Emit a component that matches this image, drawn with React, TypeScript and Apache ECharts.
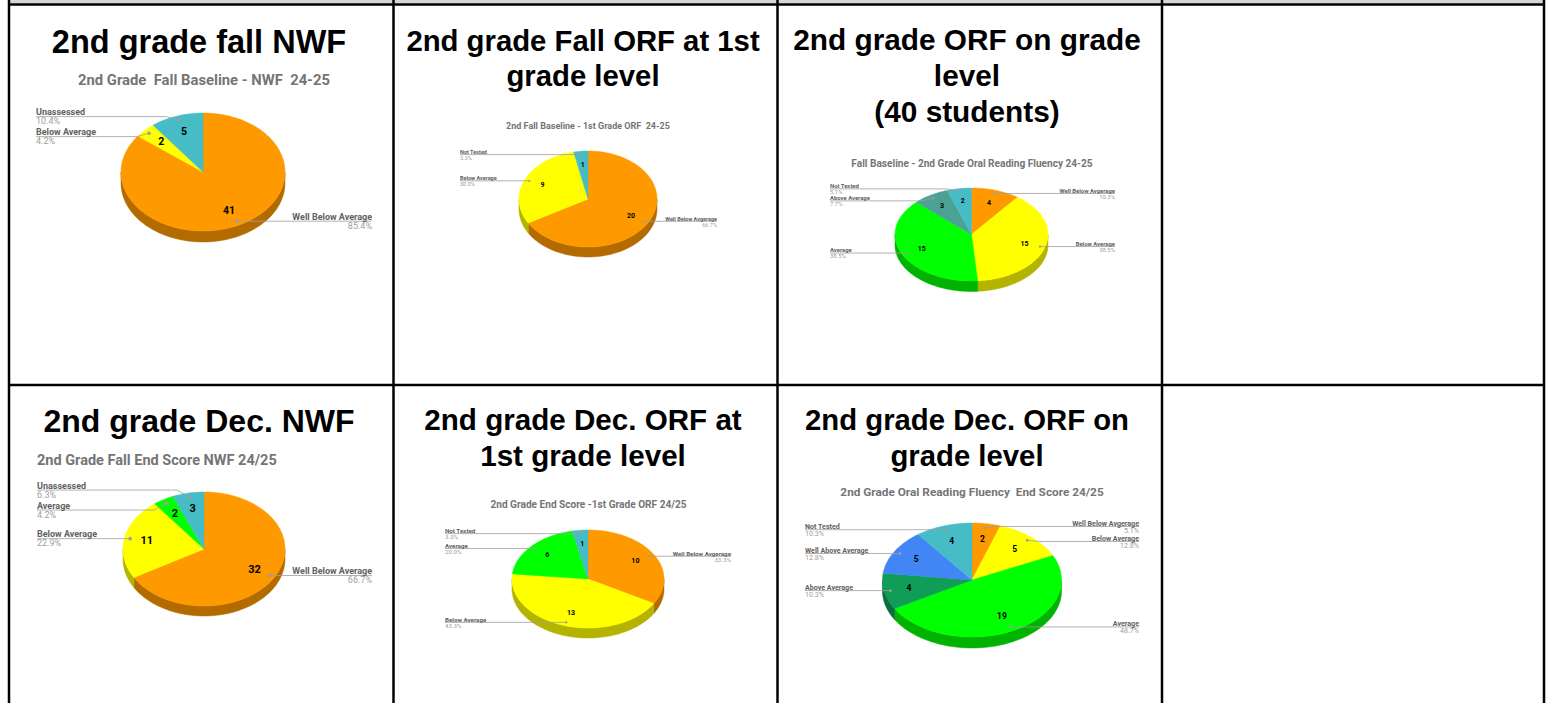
import { useEffect, useRef } from 'react';
import * as echarts from 'echarts';

// ---------- DATA ----------
const fallNwfTitle = ['2nd grade fall NWF'];
const fallNwfSubtitle = '2nd Grade  Fall Baseline - NWF  24-25';
const fallNwfCategories = ['Well Below Average', 'Below Average', 'Unassessed'];
const fallNwfValues = [41, 2, 5];

const fallOrf1Title = ['2nd grade Fall ORF at 1st', 'grade level'];
const fallOrf1Subtitle = '2nd Fall Baseline - 1st Grade ORF  24-25';
const fallOrf1Categories = ['Well Below Avgerage', 'Below Average', 'Not Tested'];
const fallOrf1Values = [20, 9, 1];

const fallOrf2Title = ['2nd grade ORF on grade', 'level', '(40 students)'];
const fallOrf2Subtitle = 'Fall Baseline - 2nd Grade Oral Reading Fluency 24-25';
const fallOrf2Categories = ['Well Below Avgerage', 'Below Average', 'Average', 'Above Average', 'Not Tested'];
const fallOrf2Values = [4, 15, 15, 3, 2];

const decNwfTitle = ['2nd grade Dec. NWF'];
const decNwfSubtitle = '2nd Grade Fall End Score NWF 24/25';
const decNwfCategories = ['Well Below Average', 'Below Average', 'Average', 'Unassessed'];
const decNwfValues = [32, 11, 2, 3];

const decOrf1Title = ['2nd grade Dec. ORF at', '1st grade level'];
const decOrf1Subtitle = '2nd Grade End Score -1st Grade ORF 24/25';
const decOrf1Categories = ['Well Below Avgerage', 'Below Average', 'Average', 'Not Tested'];
const decOrf1Values = [10, 13, 6, 1];

const decOrf2Title = ['2nd grade Dec. ORF on', 'grade level'];
const decOrf2Subtitle = '2nd Grade Oral Reading Fluency  End Score 24/25';
const decOrf2Categories = ['Well Below Avgerage', 'Below Average', 'Average', 'Above Average', 'Well Above Average', 'Not Tested'];
const decOrf2Values = [2, 5, 19, 4, 5, 4];

// ---------- STYLE / LAYOUT ----------
const ORANGE = '#FF9900';
const YELLOW = '#FFFF00';
const TEAL = '#46BDC6';
const GREEN = '#00FF00';
const BLUE = '#4285F4';
const DKGREEN = '#0F9D58';
const GRAYTEAL = '#4BA294';

const TITLE_FONT = "'Liberation Sans'";
const LABEL_FONT = 'Roboto';

type Layout = {
  cellX: number; cellW: number;
  titleY: number; titleLH: number; titleSize: number;
  subX: number; subY: number; subSize: number; subAlign: string;
  cx: number; cy: number; rx: number; ry: number; depth: number;
  labelSize: number; valueSize: number; gap: number; leftX: number; rightX: number;
  colors: string[];
};

const charts: { title: string[]; subtitle: string; cats: string[]; vals: number[]; L: Layout }[] = [
  {
    title: fallNwfTitle, subtitle: fallNwfSubtitle, cats: fallNwfCategories, vals: fallNwfValues,
    L: { cellX: 9, cellW: 384, titleY: 42, titleLH: 36, titleSize: 32.5, subX: 204, subY: 80, subSize: 14.8, subAlign: 'center',
      cx: 203, cy: 172, rx: 82, ry: 59, depth: 11, labelSize: 9, valueSize: 10.5, gap: 20, leftX: 36, rightX: 372,
      colors: [ORANGE, YELLOW, TEAL] },
  },
  {
    title: fallOrf1Title, subtitle: fallOrf1Subtitle, cats: fallOrf1Categories, vals: fallOrf1Values,
    L: { cellX: 393, cellW: 384, titleY: 57.5, titleLH: 35, titleSize: 29.3, subX: 588, subY: 126, subSize: 9, subAlign: 'center',
      cx: 588, cy: 199, rx: 69, ry: 48, depth: 10, labelSize: 5.5, valueSize: 7, gap: 13, leftX: 460, rightX: 717,
      colors: [ORANGE, YELLOW, TEAL] },
  },
  {
    title: fallOrf2Title, subtitle: fallOrf2Subtitle, cats: fallOrf2Categories, vals: fallOrf2Values,
    L: { cellX: 777, cellW: 384, titleY: 75, titleLH: 36, titleSize: 29.8, subX: 972, subY: 163.5, subSize: 10.1, subAlign: 'center',
      cx: 971.5, cy: 234.5, rx: 76.5, ry: 46.5, depth: 10.5, labelSize: 5.9, valueSize: 7, gap: 12, leftX: 830, rightX: 1115,
      colors: [ORANGE, YELLOW, GREEN, GRAYTEAL, TEAL] },
  },
  {
    title: decNwfTitle, subtitle: decNwfSubtitle, cats: decNwfCategories, vals: decNwfValues,
    L: { cellX: 9, cellW: 384, titleY: 421, titleLH: 36, titleSize: 32, subX: 37, subY: 460, subSize: 14.5, subAlign: 'left',
      cx: 204, cy: 549, rx: 81, ry: 57, depth: 10, labelSize: 9, valueSize: 11, gap: 20, leftX: 37, rightX: 372,
      colors: [ORANGE, YELLOW, GREEN, TEAL] },
  },
  {
    title: decOrf1Title, subtitle: decOrf1Subtitle, cats: decOrf1Categories, vals: decOrf1Values,
    L: { cellX: 393, cellW: 384, titleY: 437, titleLH: 36, titleSize: 29.6, subX: 588.5, subY: 504, subSize: 10.1, subAlign: 'center',
      cx: 588, cy: 579, rx: 76, ry: 49, depth: 10, labelSize: 6.2, valueSize: 7, gap: 15, leftX: 445, rightX: 731,
      colors: [ORANGE, YELLOW, GREEN, TEAL] },
  },
  {
    title: decOrf2Title, subtitle: decOrf2Subtitle, cats: decOrf2Categories, vals: decOrf2Values,
    L: { cellX: 777, cellW: 384, titleY: 437, titleLH: 36, titleSize: 29.3, subX: 972, subY: 491.5, subSize: 11.8, subAlign: 'center',
      cx: 972, cy: 580, rx: 89.5, ry: 57, depth: 11, labelSize: 7.1, valueSize: 8.5, gap: 15, leftX: 805, rightX: 1139,
      colors: [ORANGE, YELLOW, GREEN, DKGREEN, BLUE, TEAL] },
  },
];

// ---------- HELPERS ----------
function darken(hex: string, k: number) {
  const n = parseInt(hex.slice(1), 16);
  const r = Math.round(((n >> 16) & 255) * k);
  const g = Math.round(((n >> 8) & 255) * k);
  const b = Math.round((n & 255) * k);
  return `rgb(${r},${g},${b})`;
}

function ellPt(L: Layout, a: number, f: number, dy = 0): number[] {
  return [L.cx + L.rx * f * Math.sin(a), L.cy - L.ry * f * Math.cos(a) + dy];
}

function arcPts(L: Layout, a1: number, a2: number, dy: number) {
  const n = Math.max(2, Math.ceil((a2 - a1) / (Math.PI / 120)));
  const pts: number[][] = [];
  for (let k = 0; k <= n; k++) pts.push(ellPt(L, a1 + ((a2 - a1) * k) / n, 1, dy));
  return pts;
}

function layoutSide(items: { i: number; ideal: number }[], gap: number, out: number[]) {
  const sorted = [...items].sort((a, b) => a.ideal - b.ideal);
  let clusters = sorted.map((it) => ({ members: [it], top: it.ideal }));
  let changed = true;
  while (changed) {
    changed = false;
    for (let k = 0; k < clusters.length - 1; k++) {
      const A = clusters[k];
      const B = clusters[k + 1];
      const aBottom = A.top + (A.members.length - 1) * gap;
      if (B.top - aBottom < gap) {
        const members = [...A.members, ...B.members];
        const mean = members.reduce((s, m) => s + m.ideal, 0) / members.length;
        const merged = { members, top: mean - ((members.length - 1) * gap) / 2 };
        clusters = [...clusters.slice(0, k), merged, ...clusters.slice(k + 2)];
        changed = true;
        break;
      }
    }
  }
  clusters.forEach((c) => c.members.forEach((m, j) => (out[m.i] = c.top + j * gap)));
}

function buildSeries(cats: string[], vals: number[], L: Layout) {
  const total = vals.reduce((s, v) => s + v, 0);
  const starts: number[] = [];
  let acc = 0;
  vals.forEach((v) => { starts.push(acc); acc += v; });
  const ang = (x: number) => (x / total) * Math.PI * 2;

  const info = vals.map((v, i) => {
    const mid = ang(starts[i] + v / 2);
    return { i, mid, anchor: ellPt(L, mid, 0.93), right: Math.sin(mid) >= 0 };
  });
  const labelY: number[] = new Array(vals.length);
  layoutSide(info.filter((d) => !d.right).map((d) => ({ i: d.i, ideal: d.anchor[1] })), L.gap, labelY);
  layoutSide(info.filter((d) => d.right).map((d) => ({ i: d.i, ideal: d.anchor[1] })), L.gap, labelY);

  const data = vals.map((v, i) => ({ name: cats[i], value: v }));

  const body = {
    type: 'custom',
    coordinateSystem: 'none',
    silent: true,
    z: 2,
    data,
    renderItem: (params: any, api: any) => {
      const i = params.dataIndex;
      const v = api.value(0);
      const a1 = ang(starts[i]);
      const a2 = ang(starts[i] + v);
      const color = L.colors[i];
      const children: any[] = [];
      const s = Math.max(a1, Math.PI / 2);
      const e = Math.min(a2, (Math.PI * 3) / 2);
      if (s < e) {
        const top = arcPts(L, s, e, 0);
        const bot = arcPts(L, s, e, L.depth).reverse();
        children.push({
          type: 'polygon',
          shape: { points: [...top, ...bot] },
          style: { fill: darken(color, 0.7), stroke: darken(color, 0.7), lineWidth: 0.5 },
        });
      }
      children.push({
        type: 'polygon',
        shape: { points: [[L.cx, L.cy], ...arcPts(L, a1, a2, 0)] },
        style: { fill: color, stroke: color, lineWidth: 0.5 },
      });
      return { type: 'group', children };
    },
  };

  const labels = {
    type: 'custom',
    coordinateSystem: 'none',
    silent: true,
    z: 3,
    data,
    renderItem: (params: any, api: any) => {
      const i = params.dataIndex;
      const v = api.value(0);
      const d = info[i];
      const vp = ellPt(L, d.mid, 0.72);
      const [ax, ay] = d.anchor;
      const ly = labelY[i];
      const lx = d.right ? L.rightX : L.leftX;
      const bend = d.right ? ax + 12 : ax - 12;
      const align = d.right ? 'right' : 'left';
      const pct = ((v / total) * 100).toFixed(1) + '%';
      const children: any[] = [
        {
          type: 'text',
          style: {
            text: String(v), x: vp[0], y: vp[1], fill: '#000',
            font: `bold ${L.valueSize}px ${LABEL_FONT}`, align: 'center', verticalAlign: 'middle',
          },
        },
        {
          type: 'polyline',
          shape: { points: Math.abs(ly - ay) < 0.5 ? [[lx, ly], [ax, ay]] : [[lx, ly], [bend, ly], [ax, ay]] },
          style: { stroke: '#9e9e9e', lineWidth: 0.8, fill: null },
        },
        { type: 'circle', shape: { cx: ax, cy: ay, r: L.labelSize * 0.2 }, style: { fill: '#9e9e9e' } },
        {
          type: 'text',
          style: {
            text: cats[i], x: lx, y: ly + 0.3, fill: '#616161',
            font: `bold ${L.labelSize}px ${LABEL_FONT}`, align, verticalAlign: 'bottom',
          },
        },
        {
          type: 'text',
          style: {
            text: pct, x: lx, y: ly + 0.3, fill: '#9e9e9e',
            font: `${L.labelSize}px ${LABEL_FONT}`, align, verticalAlign: 'top',
          },
        },
      ];
      return { type: 'group', children };
    },
  };
  return [body, labels];
}

// ---------- GRAPHIC (table + titles) ----------
function buildGraphic() {
  const els: any[] = [];
  els.push({ type: 'rect', shape: { x: 10, y: 0, width: 1534, height: 3.5 }, style: { fill: '#d6d6d6' } });
  const vx = [9, 393.5, 777.5, 1162, 1544];
  vx.forEach((x) => els.push({ type: 'line', shape: { x1: x, y1: 0, x2: x, y2: 703 }, style: { stroke: '#000', lineWidth: 2.5 } }));
  [4.5, 385].forEach((y) => els.push({ type: 'line', shape: { x1: 8, y1: y, x2: 1545, y2: y }, style: { stroke: '#000', lineWidth: 2.5 } }));
  charts.forEach(({ title, subtitle, L }) => {
    els.push({
      type: 'text', x: L.cellX + L.cellW / 2 - 2, y: L.titleY,
      style: {
        text: title.join('\n'), font: `bold ${L.titleSize}px ${TITLE_FONT}`, lineHeight: L.titleLH,
        fill: '#000', textAlign: 'center', textVerticalAlign: 'middle',
      },
    });
    els.push({
      type: 'text', x: L.subX, y: L.subY,
      style: { text: subtitle, font: `bold ${L.subSize}px ${LABEL_FONT}`, fill: '#757575', textAlign: L.subAlign, textVerticalAlign: 'middle' },
    });
  });
  return els;
}

export default function App() {
  const ref = useRef<HTMLDivElement>(null);
  useEffect(() => {
    if (!ref.current) return;
    const chart = echarts.init(ref.current, undefined, { renderer: 'svg' });
    const series: any[] = [];
    charts.forEach((c) => series.push(...buildSeries(c.cats, c.vals, c.L)));
    chart.setOption({
      animation: false,
      backgroundColor: '#fff',
      graphic: { elements: buildGraphic() },
      series,
    });
    return () => chart.dispose();
  }, []);
  return <div ref={ref} style={{ position: 'fixed', left: 0, top: 0, width: 1546, height: 703 }} />;
}
